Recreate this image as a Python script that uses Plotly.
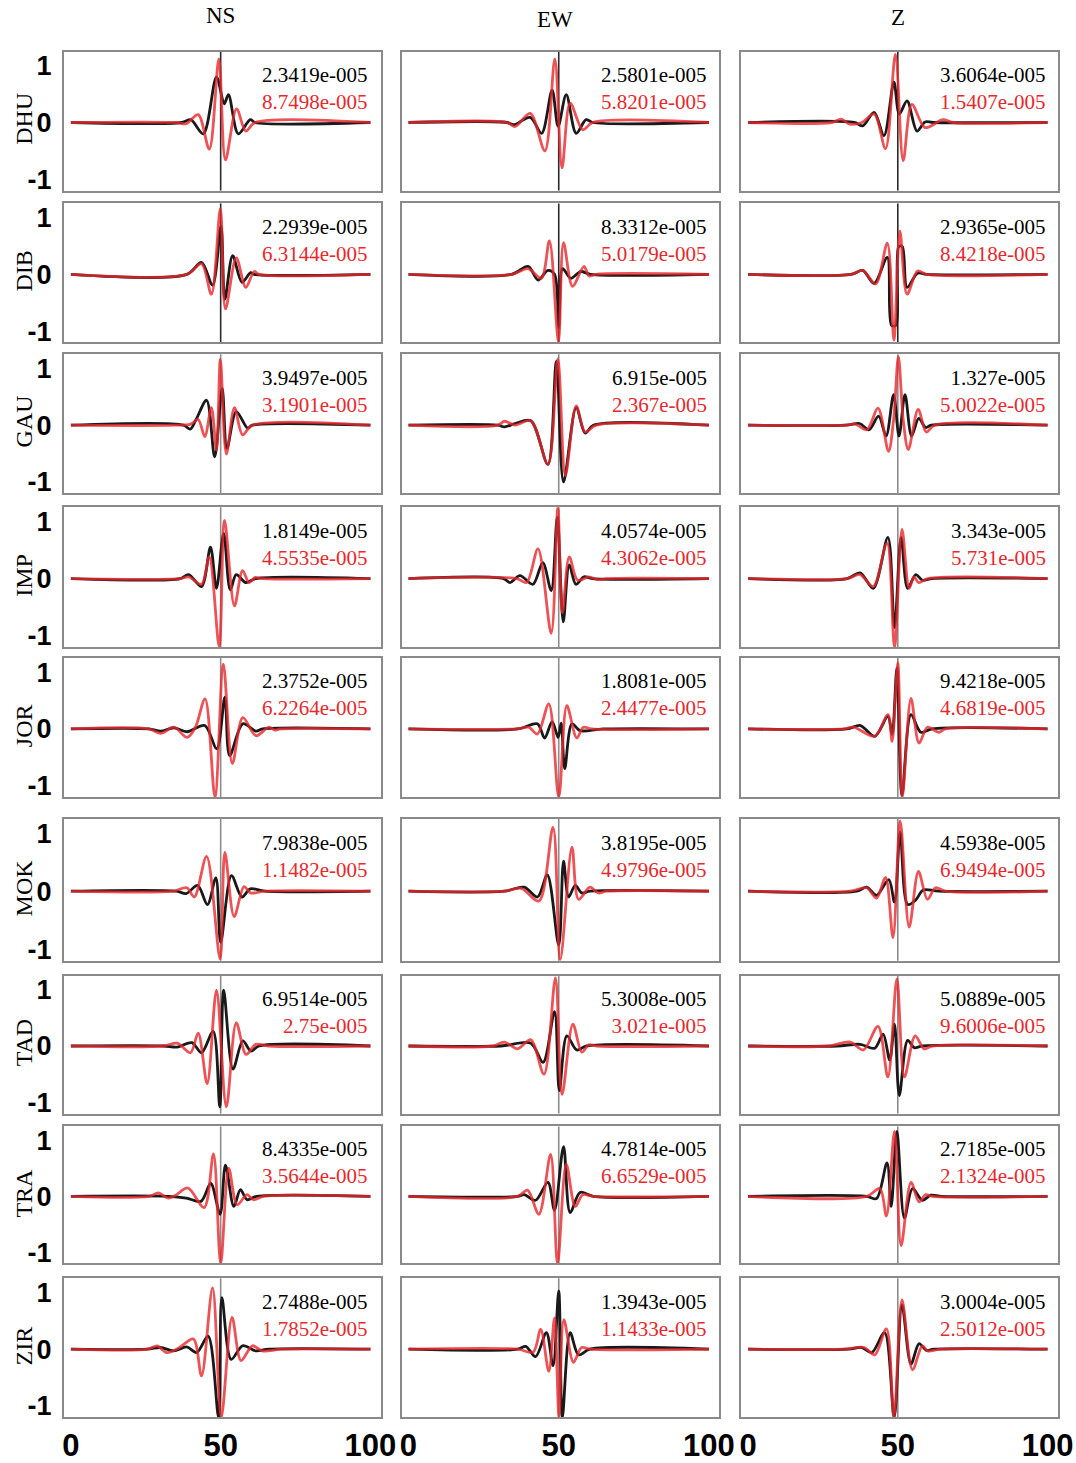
import plotly.graph_objects as go

# ---------------- data ----------------
STATIONS = ["DHU", "DIB", "GAU", "IMP", "JOR", "MOK", "TAD", "TRA", "ZIR"]
COMPONENTS = ["NS", "EW", "Z"]
X_TICKS = [0, 50, 100]
X_TICKTEXT = ["0", "50", "100"]
Y_TICKS = [-1, 0, 1]
Y_TICKTEXT = ["-1", "0", "1"]

# numbers printed in each panel (black = first line, red = second line)
BLACK_NS = ["2.3419e-005", "2.2939e-005", "3.9497e-005", "1.8149e-005", "2.3752e-005",
            "7.9838e-005", "6.9514e-005", "8.4335e-005", "2.7488e-005"]
RED_NS = ["8.7498e-005", "6.3144e-005", "3.1901e-005", "4.5535e-005", "6.2264e-005",
          "1.1482e-005", "2.75e-005", "3.5644e-005", "1.7852e-005"]
BLACK_EW = ["2.5801e-005", "8.3312e-005", "6.915e-005", "4.0574e-005", "1.8081e-005",
            "3.8195e-005", "5.3008e-005", "4.7814e-005", "1.3943e-005"]
RED_EW = ["5.8201e-005", "5.0179e-005", "2.367e-005", "4.3062e-005", "2.4477e-005",
          "4.9796e-005", "3.021e-005", "6.6529e-005", "1.1433e-005"]
BLACK_Z = ["3.6064e-005", "2.9365e-005", "1.327e-005", "3.343e-005", "9.4218e-005",
           "4.5938e-005", "5.0889e-005", "2.7185e-005", "3.0004e-005"]
RED_Z = ["1.5407e-005", "8.4218e-005", "5.0022e-005", "5.731e-005", "4.6819e-005",
         "6.9494e-005", "9.6006e-005", "2.1324e-005", "2.5012e-005"]

# waveforms: (time, normalised amplitude) knots; K = black, R = red
NS_DHU_K = [(0,0),(37,0),(40,0.05),(44.2,-0.2),(48.6,0.8),(51.2,0.33),(52.6,0.49),(55.9,-0.2),(59.9,0.05),(61.5,0),(100,0)]
NS_DHU_R = [(0,0),(35,0),(38.5,-0.02),(42.5,0.14),(46.2,-0.47),(49.4,1.12),(51.6,-0.66),(55.3,0.24),(58.4,-0.15),(61.5,0),(100,0)]
NS_DIB_K = [(0,0),(38.7,0),(43.6,0.21),(47.3,-0.19),(50.1,0.85),(51.4,-0.44),(54,0.33),(57.1,-0.14),(60,0.03),(61.2,0),(100,0)]
NS_DIB_R = [(0,0),(38.7,0),(43.6,0.19),(46.9,-0.35),(49.9,1.16),(51.6,-0.61),(55.2,0.29),(58.4,-0.23),(61.2,0.05),(62.8,0),(100,0)]
NS_GAU_K = [(0,0),(37.6,0),(39.8,-0.07),(41.8,0.1),(45.3,0.44),(48,-0.56),(50.5,0.65),(52.1,-0.41),(55.2,0.24),(59,-0.05),(60.6,0),(100,0)]
NS_GAU_R = [(0,0),(34.3,0),(40,0.02),(42.5,0.1),(44.7,-0.2),(46.9,0.31),(48.6,-0.44),(49.9,1.16),(51.9,-0.51),(54.6,0.31),(57.3,-0.17),(60.6,0),(100,0)]
NS_IMP_K = [(0,0),(36.5,0),(39.3,0.07),(43.6,-0.14),(46.6,0.55),(48.6,-0.17),(51,0.79),(53.2,-0.2),(55.2,0.07),(58.4,-0.07),(61.7,0),(100,0)]
NS_IMP_R = [(0,0),(36.5,0),(39.3,0.03),(43.6,-0.1),(46.2,0.38),(49.5,-1.19),(51.3,1.02),(54.6,-0.48),(57.3,0.14),(59.5,-0.07),(61.5,0.02),(63.9,0),(100,0)]
NS_JOR_K = [(0,0),(26,0),(30,-0.04),(34.4,0.02),(38.8,-0.05),(44.7,0.06),(48.7,-0.35),(51.4,0.56),(53,-0.47),(57.4,0.09),(61.8,-0.04),(64,0),(100,0)]
NS_JOR_R = [(0,0),(26,0),(30,-0.08),(34.4,0.03),(38.8,-0.15),(41.5,0.02),(44.8,0.53),(48.1,-1.2),(50.9,1.14),(53.9,-0.61),(57.4,0.2),(61.8,-0.12),(66.1,0.03),(68,-0.02),(70,0),(100,0)]
NS_MOK_K = [(0,0),(35.2,0),(38.5,-0.04),(42.3,0.1),(45.6,-0.23),(48.4,0.23),(50,-0.88),(53.6,0.27),(57.1,-0.1),(59.9,0.04),(64.8,0),(100,0)]
NS_MOK_R = [(0,0),(34,0),(38.7,0.06),(41.2,-0.1),(45.3,0.6),(49.8,-1.17),(51.4,0.67),(54.5,-0.44),(57.8,0.08),(60,-0.03),(64.8,0),(100,0)]
NS_TAD_K = [(0,0),(30.8,0),(35.5,-0.02),(40.4,0.06),(43.6,-0.12),(47.5,0.26),(49.7,-1.08),(51,0.99),(54.1,-0.41),(57.4,0.09),(60.1,-0.09),(62.8,0),(100,0)]
NS_TAD_R = [(0,0),(30.8,0),(35.5,0.05),(39.9,-0.12),(42.5,0.23),(45.5,-0.67),(48.6,0.99),(51.9,-1.08),(55.2,0.41),(58.5,-0.15),(61.7,0.03),(66,0),(100,0)]
NS_TRA_K = [(0,0),(32.5,0),(38.5,-0.03),(43.4,-0.09),(46.7,0.23),(49.8,-0.32),(51.6,0.56),(54.4,-0.18),(56.6,0.12),(58.8,-0.06),(62,0),(100,0)]
NS_TRA_R = [(0,0),(26,0),(29.2,0.06),(32.5,-0.03),(35,0.02),(39,0.15),(44.5,-0.2),(47.6,0.76),(50,-1.2),(52.7,0.5),(55.5,-0.15),(58.8,0.03),(60.9,-0.06),(64.3,0),(100,0)]
NS_ZIR_K = [(0,0),(25.5,0),(29.9,0.03),(34.3,-0.03),(38.7,0.04),(42,-0.06),(45.8,0.23),(49.3,-1.2),(50.4,0.91),(53.5,-0.18),(57.3,0.06),(61.7,-0.03),(66,0),(100,0)]
NS_ZIR_R = [(0,0),(25.5,0),(28.8,0.06),(32,-0.06),(36,0.02),(40.9,0.18),(43.6,-0.47),(47.3,1.08),(50.2,-1.2),(53.8,0.56),(56.8,-0.2),(60.6,0.06),(63.9,-0.03),(70.5,0),(100,0)]

EW_DHU_K = [(0,0),(32.8,0),(35,-0.04),(40.5,0.09),(44.3,-0.19),(47.8,0.57),(49.8,-0.07),(52.5,0.49),(55.8,-0.19),(59.1,0.05),(61.3,0),(100,0)]
EW_DHU_R = [(0,0),(32.8,0),(35.5,-0.07),(40.5,0.16),(45.4,-0.5),(48.7,1.12),(51.1,-0.8),(53.8,0.34),(58,-0.13),(61.3,0),(100,0)]
EW_DIB_K = [(0,0),(34.3,0),(39.8,0.14),(43.1,-0.1),(46.4,0.07),(48.6,0),(50,-0.94),(51.3,0.1),(54,-0.07),(57.3,0.05),(60.6,0),(100,0)]
EW_DIB_R = [(0,0),(34.3,0),(39.8,0.1),(44.2,-0.07),(46.9,0.59),(49.9,-1.19),(51.6,0.56),(54.6,-0.21),(58.4,0.14),(60.1,-0.03),(62.3,0),(100,0)]
EW_GAU_K = [(0,0),(29.7,0),(32,-0.03),(35.5,0.03),(40.7,0.08),(46.4,-0.69),(49.2,1.13),(51.6,-1.0),(55.8,0.31),(58.8,-0.14),(61.5,0),(100,0)]
EW_GAU_R = [(0,0),(29.7,0),(32,0.07),(35.5,0),(40.7,0.08),(46.4,-0.69),(49.7,1.17),(52.2,-0.89),(55.8,0.34),(58.8,-0.12),(62.5,0),(100,0)]
EW_IMP_K = [(0,0),(31.6,0),(33.8,-0.07),(37.1,0.05),(41.4,-0.1),(44.7,0.28),(47.5,-0.21),(49.5,1.07),(51.5,-0.76),(53.5,0.24),(55.7,-0.1),(58.4,0.03),(61.2,0),(100,0)]
EW_IMP_R = [(0,0),(36,0),(39.3,-0.07),(43.1,0.52),(47.5,-0.96),(49.7,1.24),(51.2,-0.6),(53.5,0.38),(56.3,-0.03),(60,0.03),(63,-0.02),(66,0),(100,0)]
EW_JOR_K = [(0,0),(36.3,0),(42.9,0.09),(45.3,-0.16),(47.8,0.13),(49.8,-0.15),(50.8,0.1),(52,-0.7),(54.4,0.09),(57.1,-0.03),(64.8,0),(100,0)]
EW_JOR_R = [(0,0),(36,0),(40,0.03),(42.9,-0.09),(46.7,0.44),(50,-1.2),(52.7,0.41),(56,-0.16),(58.2,0.03),(61,0),(100,0)]
EW_MOK_K = [(0,0),(31.9,0),(38.5,0.07),(42.9,-0.1),(46.2,0.28),(50,-0.93),(51.6,0.52),(53.3,-0.1),(55.5,0.1),(57.7,-0.03),(60.4,0),(100,0)]
EW_MOK_R = [(0,0),(31.9,0),(37.5,0.05),(43.4,-0.17),(48.1,1.1),(50.5,-1.18),(54.4,0.76),(56.6,-0.14),(60.4,0.07),(63.1,-0.03),(65.9,0),(100,0)]
EW_TAD_K = [(0,0),(30.8,0),(40.7,0.05),(44.8,-0.29),(48.6,0.61),(50.2,-0.79),(52.7,0.18),(56,-0.07),(59.3,0),(100,0)]
EW_TAD_R = [(0,0),(28,0),(31.9,0.07),(36.3,-0.05),(40.7,0.11),(45.1,-0.5),(48.9,1.21),(51.1,-0.86),(54.7,0.39),(57.7,-0.11),(60,0.02),(62.6,0),(100,0)]
EW_TRA_K = [(0,0),(36.3,0),(38.5,0.03),(42.3,-0.07),(46.4,0.25),(48.6,-0.25),(51.6,0.89),(53.8,-0.29),(57.1,0.07),(61.5,0),(100,0)]
EW_TRA_R = [(0,0),(36.3,0),(39.6,0.11),(43.4,-0.32),(47.3,0.75),(49.6,-1.21),(52.5,0.57),(55.5,-0.18),(58,0.03),(61.5,0),(100,0)]
EW_ZIR_K = [(0,0),(36.3,0),(39,0.05),(42.3,-0.13),(45.9,0.29),(48.1,-0.29),(50,1.03),(51.2,-1.2),(53.8,0.29),(56.6,-0.1),(60.4,0),(100,0)]
EW_ZIR_R = [(0,0),(36.3,0),(41.5,-0.05),(44,0.35),(46.7,-0.39),(48.6,0.55),(50.1,-1.2),(51.7,0.52),(54.9,-0.23),(57.6,0.03),(60.4,0),(100,0)]

Z_DHU_K = [(0,0),(35.5,0),(38.3,-0.06),(42.1,0.18),(45.4,-0.23),(48.7,0.71),(50.5,0.15),(53.1,0.38),(56.4,-0.15),(59.1,0.01),(61.8,0),(100,0)]
Z_DHU_R = [(0,0),(27.9,0),(31.1,0.06),(34,-0.03),(38,0),(42.1,0.15),(45.9,-0.46),(49.2,1.2),(51.8,-0.67),(54.7,0.32),(59.1,-0.09),(65.1,0.05),(68.4,0),(100,0)]
Z_DIB_K = [(0,0),(34.4,0),(38.3,0.07),(42.1,-0.16),(46.5,0.3),(47.9,-0.9),(49.3,-0.9),(50.3,0.49),(51.5,0.49),(53.1,-0.23),(56.6,0.02),(59.6,0),(100,0)]
Z_DIB_R = [(0,0),(34.4,0),(38.3,0.07),(42.6,-0.17),(46.5,0.55),(48.7,-1.16),(50.7,0.76),(53.1,-0.35),(56.6,0.06),(59.6,0),(100,0)]
Z_GAU_K = [(0,0),(32.7,0),(37.2,0.03),(40.4,-0.08),(43.6,0.16),(46.1,-0.19),(48.6,0.54),(50.4,-0.19),(52.4,0.54),(54.6,-0.19),(57,0.12),(59.3,-0.04),(61.2,0),(100,0)]
Z_GAU_R = [(0,0),(32.7,0),(35.8,0.02),(39.7,-0.08),(43.4,0.3),(46.9,-0.46),(48.6,0.1),(50.2,1.21),(51.8,0.1),(53.5,-0.43),(56.8,0.28),(59.5,-0.12),(62.3,0),(100,0)]
Z_IMP_K = [(0,0),(33,0),(37.4,0.1),(41.8,-0.17),(46.7,0.72),(48.9,-0.86),(51.1,0.72),(53.3,-0.17),(56,0.07),(58.2,-0.03),(61.5,0),(100,0)]
Z_IMP_R = [(0,0),(33,0),(37.4,0.07),(41.8,-0.14),(46.4,0.62),(48.9,-1.2),(51.4,0.86),(53.8,-0.17),(55.4,0.03),(57,-0.07),(60,0),(100,0)]
Z_JOR_K = [(0,0),(33,0),(37.5,0.06),(42.3,-0.13),(46.7,0.22),(48.1,-0.1),(49.7,1.07),(51.4,-1.17),(54.4,0.25),(57.7,-0.06),(61.5,0),(100,0)]
Z_JOR_R = [(0,0),(31.9,0),(35.3,0.03),(42.3,-0.13),(46.7,0.25),(48.1,-0.22),(50,1.17),(51.5,-1.2),(54.4,0.54),(57.1,-0.25),(59.9,0.03),(63.7,-0.06),(66,0),(100,0)]
Z_MOK_K = [(0,0),(36.3,0),(39.6,0.07),(42.9,-0.07),(47,0.2),(48.9,-0.19),(50.8,1.02),(53.3,-0.23),(56,-0.15),(58.5,0.02),(63.7,0),(100,0)]
Z_MOK_R = [(0,0),(34,0),(39.6,0.06),(42.9,-0.12),(45.9,0.24),(48.4,-0.8),(50.8,1.21),(53.8,-0.62),(56.9,0.34),(59.9,-0.14),(62.6,0.06),(65.9,0),(100,0)]
Z_TAD_K = [(0,0),(29.7,0),(37.4,0.03),(42.3,-0.04),(45.1,0.21),(47.3,-0.25),(48.9,0.39),(50.5,-0.88),(53.3,0.1),(55.5,-0.03),(58.2,0),(100,0)]
Z_TAD_R = [(0,0),(27,0),(34.1,0.07),(38.5,-0.07),(43.4,0.35),(46.7,-0.55),(49.7,1.19),(52.2,-0.55),(55.8,0.18),(58.8,-0.05),(61.5,0),(100,0)]
Z_TRA_K = [(0,0),(39.6,0),(42.9,-0.04),(46.4,0.6),(47.8,-0.18),(49.7,1.16),(52.2,-0.39),(54.9,0.14),(58.2,-0.07),(61,0.02),(64.8,0),(100,0)]
Z_TRA_R = [(0,0),(39.6,0),(44,0.14),(46.2,-0.35),(48.9,1.16),(51.1,-0.88),(54.4,0.25),(57.1,-0.1),(59.3,0.03),(61.5,0),(100,0)]
Z_ZIR_K = [(0,0),(33.6,0),(38,0.03),(41.3,-0.06),(45.6,0.29),(48.8,-1.2),(51.4,0.78),(54.4,-0.26),(57.1,0.1),(59.5,-0.02),(62,0),(100,0)]
Z_ZIR_R = [(0,0),(31.5,0),(38.8,0.03),(42.3,-0.1),(46.2,0.36),(48.7,-1.2),(51.4,0.87),(54.9,-0.36),(58.2,0.06),(60,-0.03),(64.3,0),(100,0)]

LABELS = {"NS": (BLACK_NS, RED_NS), "EW": (BLACK_EW, RED_EW), "Z": (BLACK_Z, RED_Z)}

# ---------------- layout geometry (pixels) ----------------
W, H = 1076, 1463
COL_PX = [(63, 385), (406, 729), (751, 1073)]
ROW_PX = [(52, 192), (205, 345), (357, 497), (511, 652), (663, 803),
          (825, 968), (983, 1122), (1135, 1273), (1288, 1428)]
X_RANGE = [-2.3, 103.5]
Y_RANGE = [-1.2, 1.25]

BLACK = "#1a1a1a"
RED = "#e8282d"
FRAME = "#8a8a8a"
SERIF = "Liberation Serif, Times New Roman, serif"
SANS = "Liberation Sans, Arial, sans-serif"

fig = go.Figure()
layout = dict(width=W, height=H, autosize=False, margin=dict(l=0, r=0, t=0, b=0),
              paper_bgcolor="white", plot_bgcolor="white", showlegend=False)
shapes, annotations = [], []

for r, st in enumerate(STATIONS):
    top, bot = ROW_PX[r]
    for c, comp in enumerate(COMPONENTS):
        left, right = COL_PX[c]
        n = r * 3 + c + 1
        xa = "x" if n == 1 else f"x{n}"
        ya = "y" if n == 1 else f"y{n}"
        xkey = "xaxis" if n == 1 else f"xaxis{n}"
        ykey = "yaxis" if n == 1 else f"yaxis{n}"
        layout[xkey] = dict(
            domain=[left / W, right / W], range=X_RANGE, anchor=ya,
            showgrid=False, zeroline=False, showline=True, mirror=True,
            linecolor=FRAME, linewidth=2, ticks="",
            tickvals=X_TICKS, ticktext=X_TICKTEXT, showticklabels=(r == len(STATIONS) - 1),
            tickfont=dict(family=SANS, size=31, color="black", weight="bold"),
            ticklabelstandoff=0,
        )
        layout[ykey] = dict(
            domain=[1 - bot / H, 1 - top / H], range=Y_RANGE, anchor=xa,
            showgrid=False, zeroline=False, showline=True, mirror=True,
            linecolor=FRAME, linewidth=2, ticks="",
            tickvals=Y_TICKS, ticktext=Y_TICKTEXT, showticklabels=(c == 0),
            tickfont=dict(family=SANS, size=27, color="black", weight="bold"),
            ticklabelstandoff=5,
        )
        # vertical reference line at t = 50
        shapes.append(dict(type="line", xref=xa, yref=f"{ya} domain",
                           x0=50, x1=50, y0=0, y1=1,
                           line=dict(color="#2a2a2a" if r < 2 else "#8c8c8c", width=1.6),
                           layer="below"))
        kpts = globals()[f"{comp}_{st}_K"]
        rpts = globals()[f"{comp}_{st}_R"]
        fig.add_trace(go.Scatter(x=[p[0] for p in kpts], y=[p[1] for p in kpts],
                                 mode="lines", line=dict(color=BLACK, width=2.8, shape="spline", smoothing=0.9),
                                 xaxis=xa, yaxis=ya, hoverinfo="skip"))
        fig.add_trace(go.Scatter(x=[p[0] for p in rpts], y=[p[1] for p in rpts],
                                 mode="lines", line=dict(color=RED, width=2.8, shape="spline", smoothing=0.9),
                                 opacity=0.8, xaxis=xa, yaxis=ya, hoverinfo="skip"))
        blk, red = LABELS[comp]
        annotations.append(dict(
            xref=f"{xa} domain", yref=f"{ya} domain", x=0.967, y=1 - 37 / 140,
            xanchor="right", yanchor="middle", align="right", showarrow=False,
            text=f"{blk[r]}<br><span style='color:{RED}'>{red[r]}</span>",
            font=dict(family=SERIF, size=21, color="black")))
    # station label on the left
    annotations.append(dict(xref="paper", yref="paper", x=22 / W, y=1 - ((top + bot) / 2 - 2) / H,
                            xanchor="center", yanchor="middle", showarrow=False, textangle=-90,
                            text=st, font=dict(family=SERIF, size=24, color="black")))

# component titles
TITLE_POS = [(222, 16), (562, 20), (910, 18)]
for comp, (px, py) in zip(COMPONENTS, TITLE_POS):
    annotations.append(dict(xref="paper", yref="paper", x=px / W, y=1 - py / H,
                            xanchor="center", yanchor="middle", showarrow=False,
                            text=comp, font=dict(family=SERIF, size=23, color="black")))

layout["shapes"] = shapes
layout["annotations"] = annotations
fig.update_layout(**layout)

fig.write_html("out.html", config={"displayModeBar": False, "responsive": False},
               post_script=("document.documentElement.style.overflow='hidden';"
                            "document.body.style.margin='0';document.body.style.overflow='hidden';"))
